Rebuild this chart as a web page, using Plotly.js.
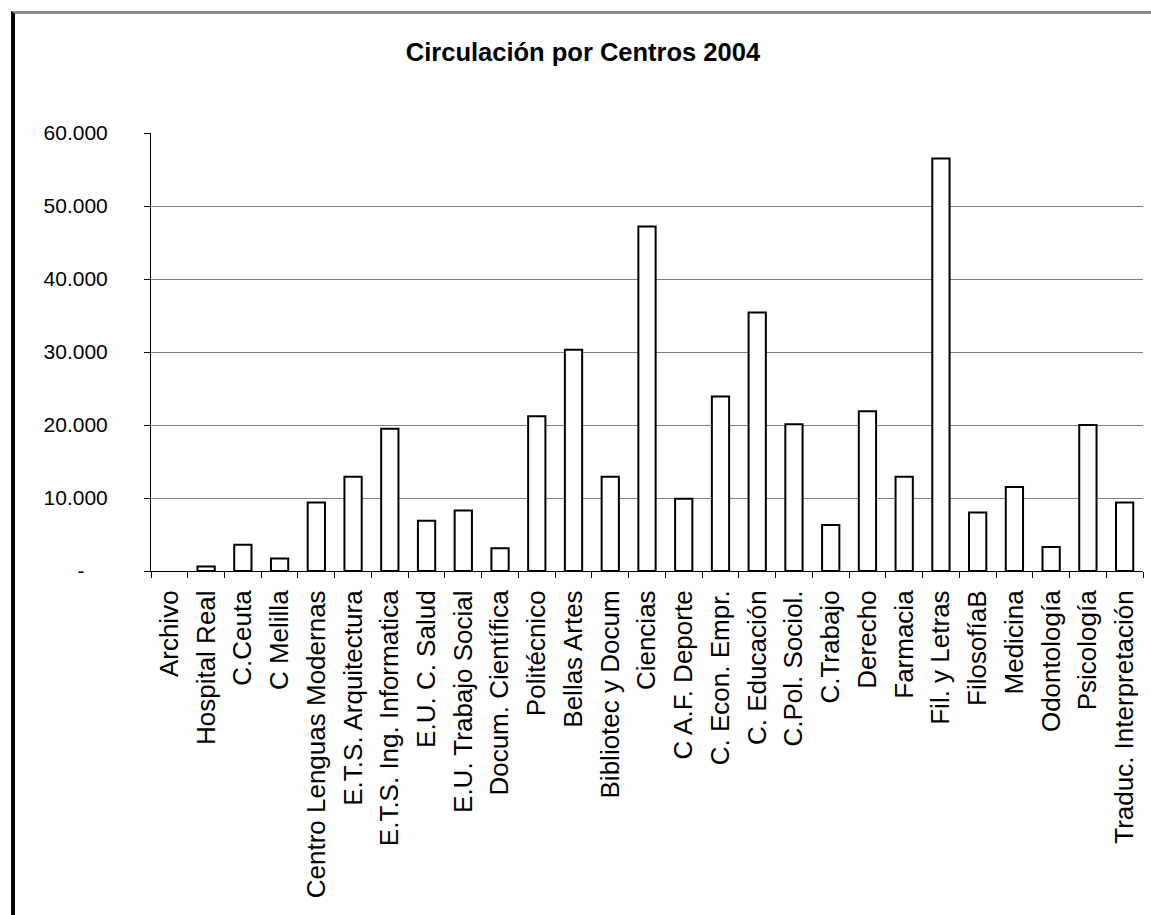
<!DOCTYPE html>
<html>
<head>
<meta charset="utf-8">
<script src="https://cdn.plot.ly/plotly-3.0.1.min.js"></script>
<style>
  html, body { margin: 0; padding: 0; background: #ffffff; }
  #frame { position: absolute; left: 11px; top: 11px; width: 1140px; height: 904px;
           border-top: 3px solid #8a8a8a; border-left: 4px solid #000000; box-sizing: border-box; }
  #chart { position: absolute; left: 0; top: 0; width: 1151px; height: 915px; }
</style>
</head>
<body>
<div id="frame"></div>
<div id="chart"></div>
<script>
const categories = ['Archivo','Hospital Real','C.Ceuta','C Melilla','Centro Lenguas Modernas','E.T.S. Arquitectura','E.T.S. Ing. Informatica','E.U. C. Salud','E.U. Trabajo Social','Docum. Científica','Politécnico','Bellas Artes','Bibliotec y Docum','Ciencias','C A.F. Deporte','C. Econ. Empr.','C. Educación','C.Pol. Sociol.','C.Trabajo','Derecho','Farmacia','Fil. y Letras','FilosofíaB','Medicina','Odontología','Psicología','Traduc. Interpretación'];
const values = [0, 600, 3600, 1700, 9400, 12900, 19500, 6900, 8300, 3100, 21200, 30300, 12900, 47200, 9900, 23900, 35400, 20100, 6300, 21900, 12900, 56500, 8000, 11500, 3300, 20000, 9400];
const yTickVals = [0, 10000, 20000, 30000, 40000, 50000, 60000];
const yTickText = ['-\u00a0\u00a0\u00a0\u00a0', '10.000', '20.000', '30.000', '40.000', '50.000', '60.000'];
const gridVals = [10000, 20000, 30000, 40000, 50000];
const chartTitle = 'Circulación por Centros 2004';

const font = 'Liberation Sans, Arial, sans-serif';

const traces = [{
  type: 'bar',
  x: categories,
  y: values,
  marker: { color: '#ffffff', line: { color: '#000000', width: values.map(v => v > 0 ? 2 : 0) } },
  hoverinfo: 'x+y'
}, {
  // invisible helper trace that activates the overlaid grid axis
  type: 'scatter', mode: 'lines',
  x: [categories[0]], y: [null], yaxis: 'y2',
  hoverinfo: 'skip', showlegend: false
}];

const layout = {
  width: 1151, height: 915,
  margin: { l: 151, r: 8, t: 133, b: 344, pad: 0 },
  paper_bgcolor: 'rgba(0,0,0,0)',
  plot_bgcolor: 'rgba(0,0,0,0)',
  showlegend: false,
  bargap: 0.53,
  title: {
    text: '<b>' + chartTitle + '</b>',
    font: { family: font, size: 25.5, color: '#000000' },
    x: 0.5065, xref: 'container', xanchor: 'center',
    y: 0.943, yref: 'container', yanchor: 'middle'
  },
  xaxis: {
    type: 'category',
    range: [-0.5, categories.length - 0.5],
    autorange: false,
    tickson: 'boundaries',
    ticks: 'outside', ticklen: 6, tickwidth: 1, tickcolor: '#000000',
    showline: true, linecolor: '#000000', linewidth: 1,
    showgrid: false, zeroline: false,
    tickangle: -90,
    ticklabelstandoff: 8,
    tickfont: { family: font, size: 26, color: '#000000' }
  },
  yaxis: {
    range: [0, 60000],
    tickmode: 'array', tickvals: yTickVals, ticktext: yTickText,
    ticks: 'outside', ticklen: 6, tickwidth: 1, tickcolor: '#000000',
    showline: true, linecolor: '#000000', linewidth: 1,
    showgrid: false, zeroline: false,
    ticklabelstandoff: 32,
    tickfont: { family: font, size: 21, color: '#000000' }
  },
  yaxis2: {
    range: [0, 60000],
    overlaying: 'y',
    tickmode: 'array', tickvals: gridVals,
    showticklabels: false, ticks: '',
    showgrid: true, gridcolor: '#808080', gridwidth: 1,
    zeroline: false, showline: false
  }
};

Plotly.newPlot('chart', traces, layout, { displayModeBar: false, staticPlot: true });
</script>
</body>
</html>
